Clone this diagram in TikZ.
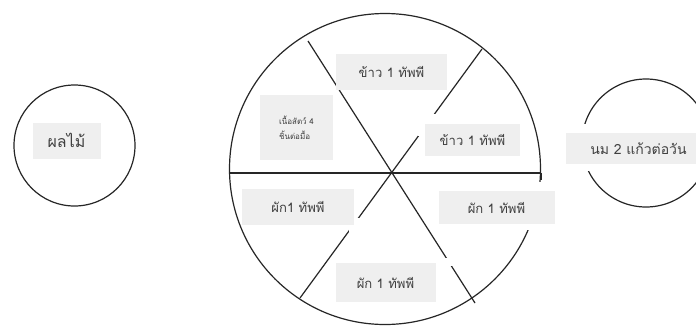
\documentclass[tikz,border=0pt]{standalone}
\usepackage{fontspec}
\newfontfamily\thaifont[Script=Thai]{Loma}
\definecolor{boxgray}{HTML}{EFEFEF}
\definecolor{txtgray}{HTML}{404040}
\definecolor{linegray}{HTML}{262626}
\begin{document}
\begin{tikzpicture}[x=0.75pt,y=-0.75pt,
  ln/.style={draw=linegray,line width=0.9pt},
  cover/.style={fill=white,draw=none},
  lbl/.style={fill=boxgray,text=txtgray,font=\thaifont\fontsize{9.8}{11}\selectfont,inner sep=0pt,anchor=center},
]
\useasboundingbox (0,0) rectangle (696,326);
\clip (0,0) rectangle (696,326);
\fill[white] (0,0) rectangle (696,326);
% circles
\draw[ln] (74.5,145.5) circle (60.5);
\draw[ln] (385,169) circle (155.5);
\draw[ln] (646,143) circle (64);
% spokes
\coordinate (h1) at (229.5,173);
\coordinate (h2) at (541,173);
\coordinate (a1) at (308,41);
\coordinate (a2) at (475,303);
\coordinate (b1) at (482,49);
\coordinate (b2) at (300,298);
\draw[ln] (h1) -- (h2);
\draw[ln] (541,173) -- (541,180);
\draw[ln] (a1) -- (a2);
\draw[ln] (b1) -- (b2);
% white covers (gaps)
\fill[cover] (418,114) rectangle (436,136);
\fill[cover] (349,218) rectangle (361,232.5);
\fill[cover] (440,258) rectangle (452.5,266);
\fill[cover] (520,182) rectangle (548,230);
\fill[cover] (567,124) rectangle (600,171);
% labels
\node[lbl,minimum width=83,minimum height=27] (r1) at (391.5,71.5) {ข้าว 1 ทัพพี};
\node[lbl,minimum width=71,minimum height=23.5] (r2) at (472.5,140) {ข้าว 1 ทัพพี};
\node[lbl,minimum width=55,minimum height=49,align=left,font=\thaifont\fontsize{6}{11}\selectfont] (m) at (296.5,127.5) {เนื้อสัตว์ 4\\ชิ้นต่อมื้อ};
\node[lbl,minimum width=84,minimum height=27] (v1) at (298,206.5) {ผัก1 ทัพพี};
\node[lbl,minimum width=87,minimum height=25] (v2) at (496.5,207.5) {ผัก 1 ทัพพี};
\node[lbl,minimum width=75,minimum height=29] (v3) at (385.5,282.5) {ผัก 1 ทัพพี};
\node[lbl,minimum width=51,minimum height=27,font=\thaifont\fontsize{12}{14}\selectfont] (f) at (66.5,140.5) {ผลไม้};
\node[lbl,minimum width=109,minimum height=23,font=\thaifont\fontsize{10.5}{12}\selectfont] (k) at (638.5,148.5) {นม 2 แก้วต่อวัน};
\end{tikzpicture}
\end{document}
